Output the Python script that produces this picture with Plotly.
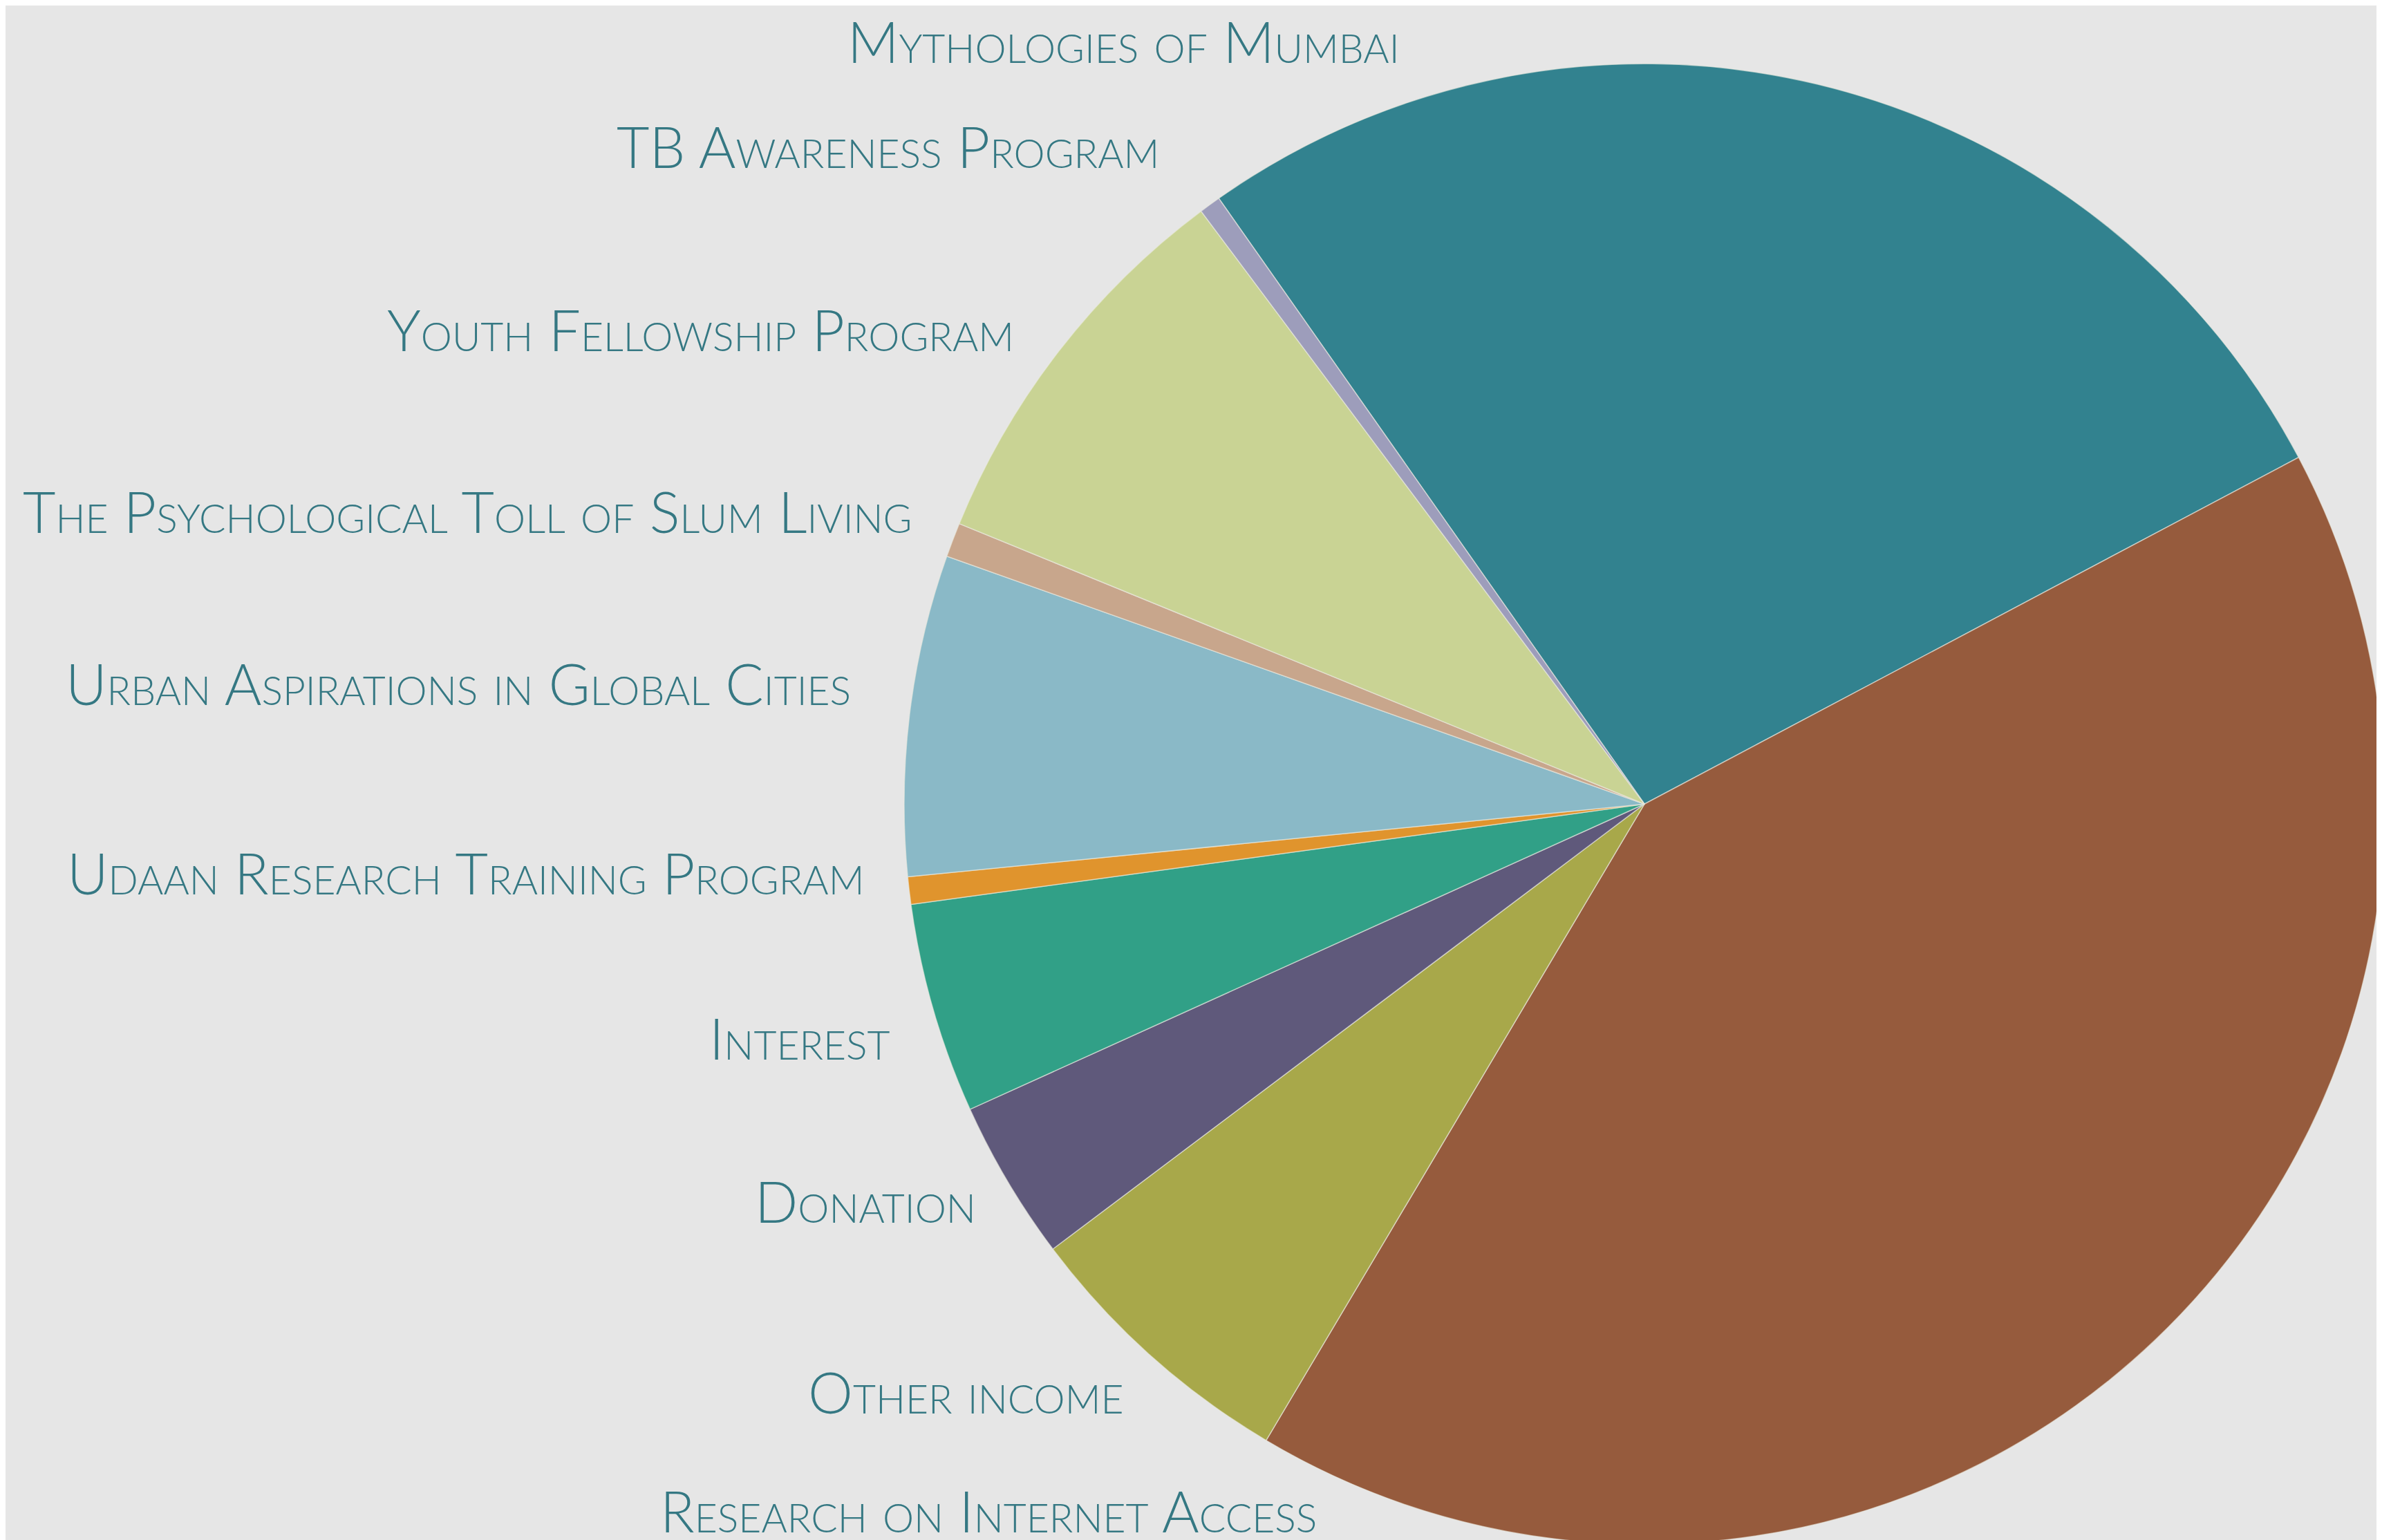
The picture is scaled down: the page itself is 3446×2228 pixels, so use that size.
import plotly.graph_objects as go

labels = [
    "Mythologies of Mumbai",
    "Research on Internet Access",
    "Other income",
    "Donation",
    "Interest",
    "Udaan Research Training Program",
    "Urban Aspirations in Global Cities",
    "The Psychological Toll of Slum Living",
    "Youth Fellowship Program",
    "TB Awareness Program",
]
values = [27.0, 41.3, 6.2, 3.5, 4.6, 0.6, 7.0, 0.75, 8.6, 0.47]
colors = [
    "#32828f", "#965b3d", "#a8a84a", "#5f597b", "#31a087",
    "#e0942d", "#8ab9c7", "#c8a68c", "#c9d394", "#9d9dbb",
]

# label placement (paper fractions): right edge x, vertical position y
label_x = [0.586, 0.551, 0.470, 0.408, 0.372, 0.361, 0.3555, 0.381, 0.424, 0.485]
label_y = [1.0, 0.0, 0.100, 0.224, 0.330, 0.437, 0.560, 0.672, 0.790, 0.909]
label_anchor = ["top", "bottom", "middle", "middle", "middle",
                "middle", "middle", "middle", "middle", "middle"]

W, H = 3446, 2228

fig = go.Figure()
fig.add_trace(go.Pie(
    labels=labels,
    values=values,
    sort=False,
    direction="clockwise",
    rotation=-35.1,
    textinfo="none",
    hoverinfo="label+percent",
    marker=dict(colors=colors, line=dict(color="rgba(235,235,225,0.6)", width=1.5)),
    domain=dict(x=[1300 / W, 3442 / W], y=[0.0, 0.963]),
    showlegend=False,
))

annotations = []
for i, name in enumerate(labels):
    annotations.append(dict(
        text=name,
        x=label_x[i], y=label_y[i],
        xref="paper", yref="paper",
        xanchor="right", yanchor=label_anchor[i],
        showarrow=False,
        font=dict(family="Lato, 'Open Sans', sans-serif", size=82,
                  color="#357883", variant="small-caps", weight=300),
    ))

fig.update_layout(
    width=W, height=H,
    margin=dict(l=0, r=0, t=0, b=0),
    paper_bgcolor="#e6e6e6",
    plot_bgcolor="#e6e6e6",
    annotations=annotations,
)

fig.write_html("out.html")
